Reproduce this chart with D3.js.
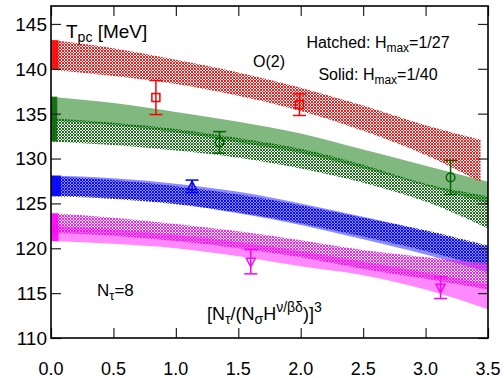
<!DOCTYPE html>
<html>
<head>
<meta charset="utf-8">
<script src="https://cdn.jsdelivr.net/npm/d3@7"></script>
<style>
  body { margin: 0; background: #fff; }
  svg { display: block; font-family: "Liberation Sans", Arial, Helvetica, sans-serif; }
</style>
</head>
<body>
<div id="chart"></div>
<script>
// x positions where the band edges were read
const xs = [0, 0.5, 1.0, 1.5, 2.0, 2.5, 3.0, 3.5];
const xsRed = [0, 0.5, 1.0, 1.5, 2.0, 2.5, 3.0, 3.44];

// hatched bands, H_max = 1/27
const redLo   = [139.9, 139.2, 138.3, 137.0, 135.3, 133.1, 130.4, 127.4];
const redHi   = [143.2, 142.3, 141.0, 139.6, 137.9, 135.9, 133.7, 132.1];
const greenLo = [131.9, 131.5, 130.9, 130.1, 128.9, 127.3, 125.2, 122.2];
const greenHi = [134.5, 134.0, 133.3, 132.3, 131.1, 129.3, 127.2, 125.8];
const blueLo  = [125.8, 125.5, 124.9, 124.0, 122.8, 121.3, 119.7, 117.8];
const blueHi  = [128.0, 127.6, 126.9, 126.0, 124.8, 123.4, 122.0, 120.3];
const magLo   = [121.7, 121.4, 120.8, 120.0, 119.0, 117.7, 116.6, 115.4];
const magHi   = [123.9, 123.4, 122.7, 121.9, 120.9, 119.8, 119.0, 118.3];

// solid bands, H_max = 1/40
const greenSolidLo = [134.2, 133.7, 132.9, 131.8, 130.6, 128.9, 127.0, 125.0];
const greenSolidHi = [136.9, 136.2, 135.2, 134.1, 132.8, 131.0, 129.2, 127.4];
const blueSolidLo  = [125.9, 125.6, 125.0, 123.9, 122.6, 121.0, 119.3, 117.3];
const blueSolidHi  = [128.1, 127.8, 127.2, 126.3, 125.0, 123.5, 121.9, 120.1];
const magSolidLo   = [120.8, 120.5, 120.0, 119.1, 118.0, 117.0, 115.4, 113.2];
const magSolidHi   = [122.5, 122.1, 121.5, 120.7, 119.7, 118.5, 117.3, 116.0];

// lattice points with errors
const redPts   = [{x: 0.84, y: 136.8, e: 1.9}, {x: 1.99, y: 136.0, e: 1.2}];
const greenPts = [{x: 1.35, y: 131.8, e: 1.2}, {x: 3.20, y: 127.9, e: 1.9}];
const bluePts  = [{x: 1.13, y: 126.9, e: 0.7}];
const magPts   = [{x: 1.60, y: 118.5, e: 1.35}, {x: 3.12, y: 115.6, e: 1.2}];

const xTicks = [0, 0.5, 1.0, 1.5, 2.0, 2.5, 3.0, 3.5];
const yTicks = [110, 115, 120, 125, 130, 135, 140, 145];

const W = 503, H = 379;
const margin = {left: 51, right: 15, top: 6, bottom: 41};

const svg = d3.select('#chart').append('svg')
    .attr('width', W)
    .attr('height', H);

const x = d3.scaleLinear().domain([0, 3.5]).range([margin.left, W - margin.right]);
const y = d3.scaleLinear().domain([110, 147]).range([H - margin.bottom, margin.top]);

// hatch patterns: crossing diagonals on a 3px tile, holes left open
const defs = svg.append('defs');
function makeHatch(id, color) {
    const p = defs.append('pattern')
        .attr('id', id)
        .attr('patternUnits', 'userSpaceOnUse')
        .attr('width', 3)
        .attr('height', 3);
    p.append('path')
        .attr('d', 'M-1,-1 L4,4 M4,-1 L-1,4')
        .attr('stroke', color)
        .attr('stroke-width', 0.9)
        .attr('fill', 'none');
}
makeHatch('hRed', '#ff0000');
makeHatch('hGreen', '#006400');
makeHatch('hBlue', '#0000ff');
makeHatch('hMag', '#ff00ff');

defs.append('clipPath').attr('id', 'plotClip')
    .append('rect')
    .attr('x', x(0)).attr('y', y(147))
    .attr('width', x(3.5) - x(0)).attr('height', y(110) - y(147));

const plot = svg.append('g').attr('clip-path', 'url(#plotClip)');

const area = d3.area()
    .x(d => x(d.x))
    .y0(d => y(d.lo))
    .y1(d => y(d.hi))
    .curve(d3.curveMonotoneX);

function band(xv, lo, hi) {
    return xv.map((v, i) => ({x: v, lo: lo[i], hi: hi[i]}));
}

// solid bands first
const solids = [
    {lo: greenSolidLo, hi: greenSolidHi, fill: '#80b880'},
    {lo: blueSolidLo, hi: blueSolidHi, fill: '#8c8cff'},
    {lo: magSolidLo, hi: magSolidHi, fill: '#ff88ff'}
];
solids.forEach(s => {
    plot.append('path')
        .datum(band(xs, s.lo, s.hi))
        .attr('d', area)
        .attr('fill', s.fill);
});

// hatched bands on top
const hatched = [
    {xv: xsRed, lo: redLo, hi: redHi, fill: 'url(#hRed)'},
    {xv: xs, lo: greenLo, hi: greenHi, fill: 'url(#hGreen)'},
    {xv: xs, lo: blueLo, hi: blueHi, fill: 'url(#hBlue)'},
    {xv: xs, lo: magLo, hi: magHi, fill: 'url(#hMag)'}
];
hatched.forEach(h => {
    plot.append('path')
        .datum(band(h.xv, h.lo, h.hi))
        .attr('d', area)
        .attr('fill', h.fill);
});

// dense strips at x ~ 0 where the bands pile up
const strips = [
    {lo: redLo[0], hi: redHi[0], color: '#ff0000', w: 0.06},
    {lo: greenLo[0], hi: greenSolidHi[0], color: '#006400', w: 0.05},
    {lo: blueLo[0], hi: blueSolidHi[0], color: '#0000ff', w: 0.08},
    {lo: magSolidLo[0], hi: magHi[0], color: '#ff00ff', w: 0.06}
];
strips.forEach(s => {
    plot.append('rect')
        .attr('x', x(0))
        .attr('y', y(s.hi))
        .attr('width', x(s.w) - x(0))
        .attr('height', y(s.lo) - y(s.hi))
        .attr('fill', s.color)
        .attr('opacity', 0.85);
});

// error bars and markers
function drawPoints(pts, color, shape) {
    const g = svg.append('g').attr('stroke', color).attr('fill', 'none').attr('stroke-width', 1.5);
    pts.forEach(p => {
        const cx = x(p.x), cy = y(p.y), t = y(p.y + p.e), b = y(p.y - p.e);
        g.append('line').attr('x1', cx).attr('x2', cx).attr('y1', t).attr('y2', b);
        g.append('line').attr('x1', cx - 6.5).attr('x2', cx + 6.5).attr('y1', t).attr('y2', t);
        g.append('line').attr('x1', cx - 6.5).attr('x2', cx + 6.5).attr('y1', b).attr('y2', b);
        if (shape === 'square') {
            g.append('rect').attr('x', cx - 4).attr('y', cy - 4).attr('width', 8).attr('height', 8);
        } else if (shape === 'circle') {
            g.append('circle').attr('cx', cx).attr('cy', cy).attr('r', 4.3);
        } else if (shape === 'up') {
            g.append('path').attr('d', `M${cx},${cy - 5} L${cx + 4.5},${cy + 3.5} L${cx - 4.5},${cy + 3.5} Z`);
        } else {
            g.append('path').attr('d', `M${cx},${cy + 5} L${cx + 4.5},${cy - 3.5} L${cx - 4.5},${cy - 3.5} Z`);
        }
    });
}
drawPoints(redPts, '#ff0000', 'square');
drawPoints(greenPts, '#006400', 'circle');
drawPoints(bluePts, '#0000ff', 'up');
drawPoints(magPts, '#ff00ff', 'down');

// axes with inward ticks on all four sides
const tickLen = 10;
svg.append('g')
    .attr('transform', `translate(0,${y(110)})`)
    .call(d3.axisBottom(x).tickValues(xTicks).tickSize(-tickLen).tickFormat(''));
svg.append('g')
    .attr('transform', `translate(0,${y(147)})`)
    .call(d3.axisTop(x).tickValues(xTicks).tickSize(-tickLen).tickFormat(''));
svg.append('g')
    .attr('transform', `translate(${x(0)},0)`)
    .call(d3.axisLeft(y).tickValues(yTicks).tickSize(-tickLen).tickFormat(''));
svg.append('g')
    .attr('transform', `translate(${x(3.5)},0)`)
    .call(d3.axisRight(y).tickValues(yTicks).tickSize(-tickLen).tickFormat(''));
svg.selectAll('.domain').remove();
svg.selectAll('.tick line').attr('stroke', '#222').attr('stroke-width', 1.2);

svg.append('rect')
    .attr('x', x(0)).attr('y', y(147))
    .attr('width', x(3.5) - x(0)).attr('height', y(110) - y(147))
    .attr('fill', 'none').attr('stroke', '#000').attr('stroke-width', 1.6);

// tick labels
svg.append('g').selectAll('text')
    .data(xTicks).enter().append('text')
    .attr('x', d => x(d))
    .attr('y', 375)
    .attr('text-anchor', 'middle')
    .attr('font-size', 18)
    .text(d => d.toFixed(1));
svg.append('g').selectAll('text')
    .data(yTicks).enter().append('text')
    .attr('x', 47)
    .attr('y', d => y(d))
    .attr('dy', '0.36em')
    .attr('text-anchor', 'end')
    .attr('font-size', 19)
    .text(d => d);

// annotations
const title = svg.append('text').attr('x', 66).attr('y', 38).attr('font-size', 19);
title.append('tspan').text('T');
title.append('tspan').attr('font-size', 14).attr('dy', 4).text('pc');
title.append('tspan').attr('dy', -4).text(' [MeV]');

svg.append('text').attr('x', 253).attr('y', 67).attr('font-size', 16).text('O(2)');

function hLabel(txt, val, yy) {
    const t = svg.append('text').attr('x', 378).attr('y', yy).attr('font-size', 16).attr('text-anchor', 'middle');
    t.append('tspan').text(txt + ' H');
    t.append('tspan').attr('font-size', 12).attr('dy', 4).text('max');
    t.append('tspan').attr('dy', -4).text('=' + val);
}
hLabel('Hatched:', '1/27', 48);
hLabel('Solid:', '1/40', 80);

const nt = svg.append('text').attr('x', 97).attr('y', 296).attr('font-size', 17);
nt.append('tspan').text('N');
nt.append('tspan').attr('font-size', 13).attr('dy', 4).text('τ');
nt.append('tspan').attr('dy', -4).text('=8');

const xl = svg.append('text').attr('x', 207).attr('y', 320).attr('font-size', 18);
xl.append('tspan').text('[N');
xl.append('tspan').attr('font-size', 14).attr('dy', 4).text('τ');
xl.append('tspan').attr('dy', -4).text('/(N');
xl.append('tspan').attr('font-size', 14).attr('dy', 4).text('σ');
xl.append('tspan').attr('dy', -4).text('H');
xl.append('tspan').attr('font-size', 14).attr('dy', -8).text('ν/βδ');
xl.append('tspan').attr('dy', 8).text(')]');
xl.append('tspan').attr('font-size', 14).attr('dy', -8).text('3');
</script>
</body>
</html>
